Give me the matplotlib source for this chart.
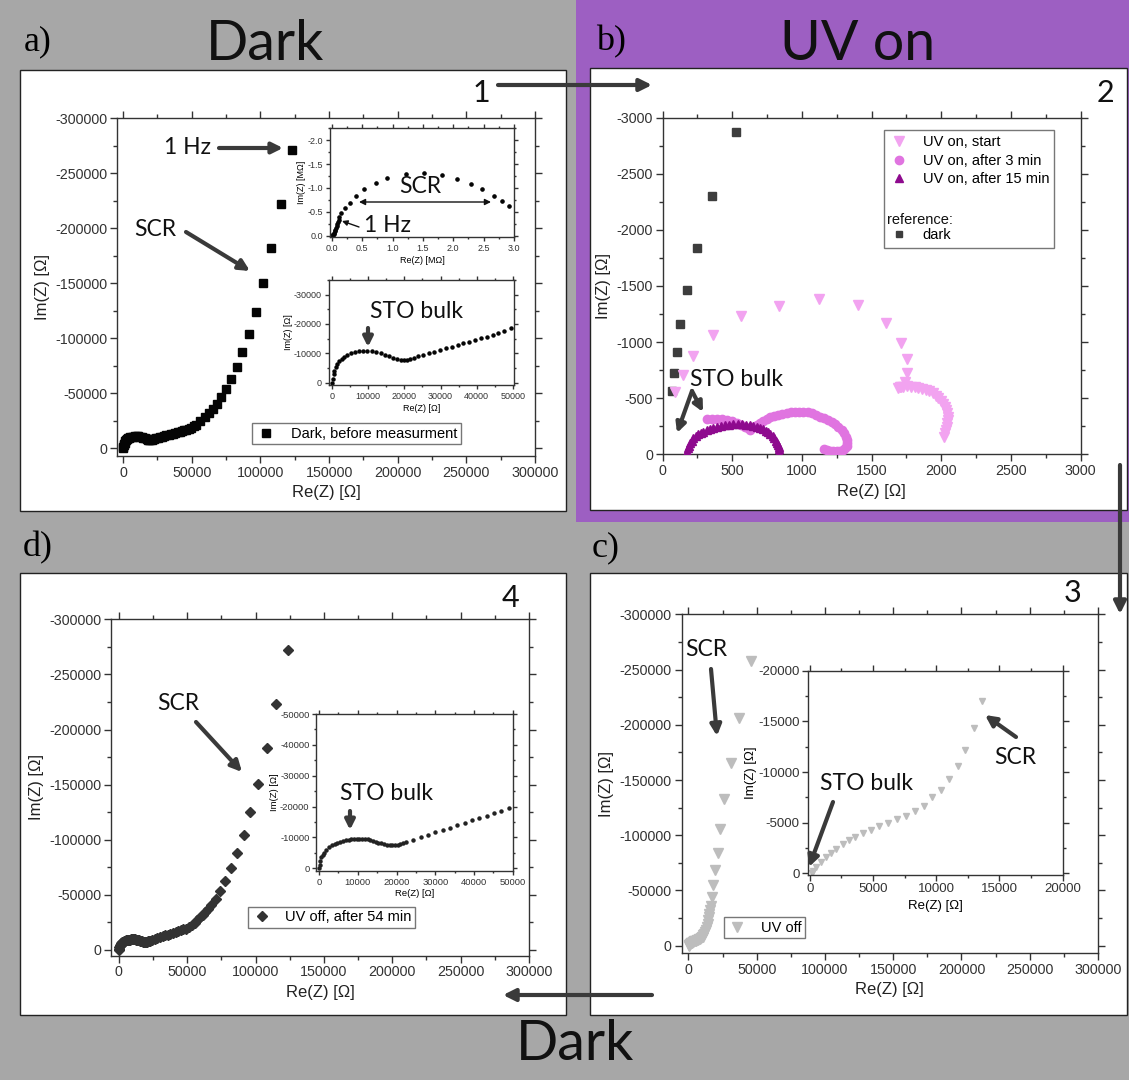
import numpy as np
import matplotlib
matplotlib.use("Agg")
import matplotlib.pyplot as plt
from matplotlib.ticker import MultipleLocator, FuncFormatter
from matplotlib.patches import Rectangle, FancyArrowPatch
from matplotlib.lines import Line2D

plt.rcParams['font.family'] = ['Liberation Sans', 'DejaVu Sans']
plt.rcParams['axes.unicode_minus'] = False

# ---------------- data ----------------
# a) inset 1, SCR arc in MOhm
a_scr_re = [0.0, 0.01, 0.02, 0.03, 0.04, 0.05, 0.06, 0.07, 0.08, 0.09, 0.10, 0.11, 0.12,
            0.154, 0.22, 0.30, 0.40, 0.53, 0.72, 0.91, 1.22, 1.51, 1.81, 2.06, 2.30, 2.48, 2.67, 2.80, 2.92]
a_scr_im = [0.0, -0.01, -0.02, -0.04, -0.06, -0.09, -0.12, -0.16, -0.20, -0.24, -0.28, -0.33, -0.38,
            -0.47, -0.57, -0.69, -0.83, -0.98, -1.11, -1.22, -1.30, -1.32, -1.28, -1.18, -1.09, -0.97, -0.84, -0.73, -0.63]

# a) dark, before measurement (low part = STO bulk inset, high part = main)
a_re_low = [0, 200, 450, 700, 1100, 1500, 2100, 2700, 3400, 4200, 5200, 6300, 7400, 8700, 9800,
            11000, 12200, 13500, 14700, 15900, 17000, 18000, 19000, 19900, 20800, 21700, 22800, 23900,
            25300, 26800, 28300, 29900, 31500, 33100, 34700, 36300, 37900, 39600, 41200, 42800, 44400,
            46000, 47600, 49600]
a_im_low = [0, -1400, -2800, -4000, -5200, -6300, -7400, -8200, -8900, -9400, -10000, -10500, -10700,
            -10800, -10900, -10800, -10600, -10100, -9500, -9000, -8400, -7900, -7700, -7600, -7700,
            -8000, -8500, -9000, -9400, -10000, -10600, -11100, -11700, -12300, -12900, -13400, -14000,
            -14600, -15200, -15700, -16400, -17000, -17700, -18600]
a_re_high = [51500, 53200, 55900, 59300, 62500, 65400, 68600, 71500, 75000, 78700, 82700, 86700,
             91500, 96500, 101600, 107700, 114900, 123100]
a_im_high = [-19800, -21500, -24800, -28200, -31800, -35500, -40300, -46400, -53600, -62700, -73600,
             -87300, -103600, -124000, -150000, -181800, -222000, -271000]

# b) UV on
dark_re = [65, 80, 100, 128, 176, 249, 354, 525]
dark_im = [-564, -722, -915, -1158, -1464, -1838, -2302, -2869]
start_re = [89, 144, 220, 364, 560, 837, 1121, 1399, 1603, 1708, 1751, 1756, 1739, 1700, 1691, 1712,
            1727, 1755, 1780, 1808, 1835, 1862, 1890, 1915, 1938, 1960, 1978, 1995, 2010, 2023, 2033,
            2041, 2045, 2045, 2043, 2039, 2033, 2026, 2019]
start_im = [-558, -707, -876, -1060, -1233, -1322, -1381, -1331, -1168, -995, -847, -727, -647, -600,
            -590, -600, -603, -605, -603, -600, -594, -585, -573, -560, -544, -522, -499, -474, -448,
            -421, -395, -365, -335, -305, -276, -247, -217, -187, -157]
min3_re = [316, 352, 388, 424, 460, 496, 531, 562, 591, 612, 627, 650, 675, 698, 722, 746, 770, 800,
           830, 860, 890, 920, 950, 980, 1010, 1040, 1070, 1100, 1129, 1159, 1189, 1213, 1237, 1262,
           1285, 1302, 1316, 1323, 1325, 1320, 1309, 1293, 1273, 1250, 1225, 1200, 1177, 1160]
min3_im = [-312, -316, -317, -313, -306, -295, -282, -265, -246, -230, -217, -240, -261, -281, -299,
           -316, -330, -341, -350, -358, -365, -373, -378, -380, -380, -374, -365, -351, -335, -321,
           -306, -289, -270, -245, -217, -188, -157, -128, -98, -75, -53, -39, -29, -26, -29, -33,
           -38, -50]
min15_re = [173, 178, 184, 190, 197, 208, 220, 238, 256, 274, 292, 316, 340, 364, 388, 418, 448, 478,
            507, 538, 568, 598, 627, 651, 675, 699, 722, 740, 758, 774, 790, 802, 814, 821, 828, 832,
            836, 837]
min15_im = [-10, -23, -53, -75, -98, -120, -143, -161, -178, -190, -201, -213, -225, -236, -246, -254,
            -261, -264, -267, -268, -267, -263, -258, -252, -246, -236, -225, -212, -199, -181, -163,
            -142, -121, -102, -83, -64, -45, -12]

# c) UV off
c_re_low = [150, 260, 500, 900, 1300, 1700, 2100, 2600, 3100, 3600, 4200, 4800, 5500, 6200, 6900,
            7600, 8300, 9000, 9700, 10400, 11000, 11700, 12300, 12980, 13600]
c_im_low = [-70, -260, -660, -1100, -1600, -2000, -2400, -2900, -3300, -3600, -4000, -4300, -4700,
            -5000, -5400, -5700, -6200, -6700, -7500, -8200, -9300, -10600, -12200, -14300, -17000]
c_re_high = [14200, 14600, 15000, 15400, 15800, 16200, 16900, 17900, 19500, 21300, 23100, 25900,
             30800, 36900, 45600]
c_im_high = [-20000, -23000, -26000, -29000, -32500, -36000, -44000, -55000, -68500, -84000, -106000,
             -132500, -165000, -206000, -258000]

# d) UV off, after 54 min
d_re_low = [0, 150, 350, 600, 900, 1200, 1800, 2600, 3300, 4000, 4700, 5500, 6200, 6900, 7600, 8300,
            9000, 9700, 10400, 11100, 11800, 12500, 13200, 13900, 14600, 15300, 16000, 16800, 17500,
            18200, 18900, 19600, 20300, 21000, 21700, 22400, 24300, 26200, 28100, 30000, 31900, 33800,
            35700, 37600, 39500, 41400, 43300, 45200, 47100, 49000]
d_im_low = [0, -1200, -2400, -3500, -4300, -4900, -5900, -6800, -7400, -7900, -8300, -8600, -8900,
            -9200, -9300, -9400, -9500, -9600, -9600, -9600, -9500, -9400, -9200, -8900, -8600, -8300,
            -8100, -7800, -7600, -7500, -7400, -7500, -7600, -7800, -8100, -8400, -9200, -10000,
            -10800, -11600, -12400, -13200, -13900, -14700, -15500, -16300, -17000, -17800, -18600,
            -19400]
d_re_high = [51500, 53500, 55300, 57300, 59300, 61300, 63300, 65300, 67300, 70700, 73900, 77900,
             81900, 86400, 91200, 96000, 101900, 108000, 115200, 123900]
d_im_high = [-21000, -22500, -24500, -27000, -29600, -32000, -34800, -37600, -40500, -46600, -53500,
             -62600, -74000, -87700, -104000, -125000, -150600, -183000, -223000, -272000]

# ---------------- helpers ----------------
W, H = 1129, 1080
fig = plt.figure(figsize=(W / 100, H / 100), dpi=100)
fig.patch.set_facecolor('#a7a7a7')


def fx(x):
    return x / W


def fy(y):
    return 1 - y / H


def box(l, t, r, b):
    return [l / W, 1 - b / H, (r - l) / W, (b - t) / H]


def style(ax, xmaj, ymaj, fs, tl, fmt='int'):
    ax.xaxis.set_major_locator(MultipleLocator(xmaj))
    ax.xaxis.set_minor_locator(MultipleLocator(xmaj / 2))
    ax.yaxis.set_major_locator(MultipleLocator(ymaj))
    ax.yaxis.set_minor_locator(MultipleLocator(ymaj / 2))
    if fmt == 'int':
        f = FuncFormatter(lambda v, p: str(int(round(v))))
    else:
        f = FuncFormatter(lambda v, p: f"{v + 0.0:.1f}")
    ax.xaxis.set_major_formatter(f)
    ax.yaxis.set_major_formatter(f)
    ax.tick_params(which='both', direction='out', top=True, right=True,
                   colors='#333333', labelsize=fs, width=1)
    ax.tick_params(which='major', length=tl, pad=2)
    ax.tick_params(which='minor', length=tl * 0.6)
    for s in ax.spines.values():
        s.set_color('#333333')
        s.set_linewidth(1)


def arrow(x1, y1, x2, y2, lw=3, ms=16, st='-|>', color='#3a3a3a'):
    fig.add_artist(FancyArrowPatch((fx(x1), fy(y1)), (fx(x2), fy(y2)),
                                   transform=fig.transFigure, arrowstyle=st,
                                   mutation_scale=ms, lw=lw, color=color,
                                   shrinkA=0, shrinkB=0, zorder=10))


def note(x, y, s, fs=16.5):
    fig.text(fx(x), fy(y), s, fontsize=fs, family='Lato', color='#111111',
             ha='center', va='center', zorder=11)


def legend_at(ax, handles, labels, x, y, **kw):
    leg = ax.legend(handles, labels, loc='upper left', bbox_to_anchor=(fx(x), fy(y)),
                    bbox_transform=fig.transFigure, borderaxespad=0, fancybox=False,
                    framealpha=1, fontsize=10.5, **kw)
    leg.get_frame().set_edgecolor('#777777')
    leg.get_frame().set_linewidth(1)
    return leg


# backgrounds
fig.add_artist(Rectangle((fx(576), fy(522)), (W - 576) / W, 522 / H, transform=fig.transFigure,
                         facecolor='#9d5fc2', edgecolor='none', zorder=-10))
for l, t, r, b in [(20, 70, 566, 511), (590, 68, 1127, 510), (20, 573, 566, 1015), (590, 573, 1127, 1015)]:
    fig.add_artist(Rectangle((fx(l), fy(b)), (r - l) / W, (b - t) / H, transform=fig.transFigure,
                             facecolor='white', edgecolor='#222222', lw=1, zorder=-5))

# ---------------- a) ----------------
ax = fig.add_axes(box(117, 118, 535, 456))
ax.plot(a_re_low + a_re_high, a_im_low + a_im_high, 's', color='#050505', ms=6, ls='none')
ax.set_xlim(-4500, 300000)
ax.set_ylim(7000, -300000)
style(ax, 50000, 50000, 10.3, 5)
ax.set_xlabel('Re(Z) [Ω]', fontsize=12, color='#222222')
ax.set_ylabel('Im(Z) [Ω]', fontsize=12, color='#222222')
legend_at(ax, [Line2D([], [], marker='s', ls='none', color='#050505', ms=6)],
          ['Dark, before measurment'], 252, 423, handlelength=1.4, handletextpad=1.0, borderpad=0.25)

ai = fig.add_axes(box(330, 128, 514, 237))
ai.plot(a_scr_re, a_scr_im, 'o', color='#050505', ms=2.3, ls='none')
ai.set_xlim(-0.03, 3.0)
ai.set_ylim(0.03, -2.26)
style(ai, 0.5, 0.5, 6.5, 3, fmt='f')
ai.set_xlabel('Re(Z) [MΩ]', fontsize=6.5, labelpad=2)
ai.set_ylabel('Im(Z) [MΩ]', fontsize=6.5, labelpad=1)

ai2 = fig.add_axes(box(329, 280, 514, 385))
ai2.plot(a_re_low + a_re_high, a_im_low + a_im_high, 'o', color='#050505', ms=2.2, ls='none')
ai2.set_xlim(-800, 50300)
ai2.set_ylim(800, -35000)
style(ai2, 10000, 10000, 6.5, 3)
ai2.set_xlabel('Re(Z) [Ω]', fontsize=6.5, labelpad=2)
ai2.set_ylabel('Im(Z) [Ω]', fontsize=6.5, labelpad=1)

# ---------------- b) ----------------
bx = fig.add_axes(box(662.6, 117.7, 1080.7, 454.3))
bx.plot(dark_re, dark_im, 's', color='#3d3d3d', ms=5.5, ls='none', zorder=2)
h1, = bx.plot(start_re, start_im, 'v', color='#f2a3f0', ms=6.5, ls='none', zorder=3)
h2, = bx.plot(min3_re, min3_im, 'o', color='#e074e0', ms=6, ls='none', zorder=4)
h3, = bx.plot(min15_re, min15_im, '^', color='#8e0a8e', ms=6, ls='none', zorder=5)
bx.set_xlim(0, 3000)
bx.set_ylim(0, -3000)
style(bx, 500, 500, 10.3, 5)
bx.set_xlabel('Re(Z) [Ω]', fontsize=12, color='#222222')
bx.set_ylabel('Im(Z) [Ω]', fontsize=12, color='#222222')
blank = Line2D([], [], ls='none', marker='none')
hd = Line2D([], [], marker='s', ls='none', color='#3d3d3d', ms=5)
legend_at(bx, [h1, h2, h3, blank, blank, hd],
          ['UV on, start', 'UV on, after 3 min', 'UV on, after 15 min', ' ', ' ', 'dark'],
          884, 130, handlelength=1.4, handletextpad=0.9, borderpad=0.35, labelspacing=0.32)
fig.text(fx(887), fy(220), 'reference:', fontsize=10.5, ha='left', va='center', color='#111111', zorder=12)

# ---------------- c) ----------------
cx = fig.add_axes(box(681.5, 614.3, 1098, 953))
cx.plot(c_re_low + c_re_high, c_im_low + c_im_high, 'v', color='#bdbdbd', ms=6.5, ls='none')
cx.set_xlim(-5100, 300000)
cx.set_ylim(6600, -300000)
style(cx, 50000, 50000, 10.3, 5)
cx.set_xlabel('Re(Z) [Ω]', fontsize=12, color='#222222')
cx.set_ylabel('Im(Z) [Ω]', fontsize=12, color='#222222')
legend_at(cx, [Line2D([], [], marker='v', ls='none', color='#bdbdbd', ms=6.5)], ['UV off'],
          723.5, 917, handlelength=1.4, handletextpad=0.9, borderpad=0.25)

ci = fig.add_axes(box(808, 670.7, 1062.5, 875))
ci.plot(c_re_low, c_im_low, 'v', color='#bdbdbd', ms=4, ls='none')
ci.set_xlim(-150, 20000)
ci.set_ylim(150, -20000)
style(ci, 5000, 5000, 9.5, 4)
ci.set_xlabel('Re(Z) [Ω]', fontsize=9.5, labelpad=3)
ci.set_ylabel('Im(Z) [Ω]', fontsize=9.5, labelpad=1)

# ---------------- d) ----------------
dx = fig.add_axes(box(111, 619.3, 529, 955.7))
dx.plot(d_re_low + d_re_high, d_im_low + d_im_high, 'D', color='#333333', ms=5.5, ls='none')
dx.set_xlim(-5800, 300000)
dx.set_ylim(5200, -300000)
style(dx, 50000, 50000, 10.3, 5)
dx.set_xlabel('Re(Z) [Ω]', fontsize=12, color='#222222')
dx.set_ylabel('Im(Z) [Ω]', fontsize=12, color='#222222')
legend_at(dx, [Line2D([], [], marker='D', ls='none', color='#333333', ms=5.5)], ['UV off, after 54 min'],
          248, 906.7, handlelength=1.4, handletextpad=0.9, borderpad=0.25)

di = fig.add_axes(box(316.4, 714, 512.7, 870.7))
di.plot(d_re_low + d_re_high, d_im_low + d_im_high, 'o', color='#222222', ms=2.2, ls='none')
di.set_xlim(-700, 50000)
di.set_ylim(800, -50000)
style(di, 10000, 10000, 6.8, 3)
di.set_xlabel('Re(Z) [Ω]', fontsize=6.8, labelpad=2)
di.set_ylabel('Im(Z) [Ω]', fontsize=6.8, labelpad=1)

# ---------------- headings, numbers, arrows ----------------
serif = ['Liberation Serif', 'DejaVu Serif']
fig.text(fx(38), fy(42), 'a)', fontsize=26, family=serif, ha='center', va='center')
fig.text(fx(611), fy(42), 'b)', fontsize=26, family=serif, ha='center', va='center')
fig.text(fx(38), fy(548), 'd)', fontsize=26, family=serif, ha='center', va='center')
fig.text(fx(606), fy(548), 'c)', fontsize=26, family=serif, ha='center', va='center')
note(265, 44, 'Dark', fs=40)
note(858, 44, 'UV on', fs=40)
note(575, 1045, 'Dark', fs=40)
note(481, 93, '1', fs=22)
note(1105, 93, '2', fs=22)
note(1073, 593, '3', fs=22)
note(510, 598, '4', fs=22)
arrow(498, 85, 652, 85, lw=3, ms=18)
arrow(1120, 465, 1120, 614, lw=3, ms=18)
arrow(652, 995, 503, 995, lw=3, ms=18)

# a) annotations
note(188, 148, '1 Hz')
arrow(219, 148, 283, 148)
note(155, 229, 'SCR')
arrow(186, 232, 250, 271)
note(420, 186, 'SCR')
arrow(359, 202, 491, 202, lw=1, ms=9, st='<|-|>', color='#111111')
note(388, 225, '1 Hz')
arrow(359, 227, 342, 221, lw=1, ms=8, color='#111111')
note(416, 311, 'STO bulk')
arrow(368, 328, 368, 347, lw=3, ms=14)

# b) annotations
note(736, 380, 'STO bulk')
arrow(692, 391, 677, 433, lw=3, ms=14)
arrow(692, 391, 703, 412, lw=3, ms=14)

# c) annotations
note(706, 649, 'SCR')
arrow(711, 669, 717, 736)
note(1015, 757, 'SCR')
arrow(1016, 737, 985, 715)
note(866, 783, 'STO bulk')
arrow(833, 802, 809, 867)

# d) annotations
note(178, 704, 'SCR')
arrow(196, 722, 242, 772)
note(386, 793, 'STO bulk')
arrow(350, 811, 350, 830, lw=3, ms=14)

fig.savefig('out.png', dpi=100, facecolor=fig.get_facecolor())
